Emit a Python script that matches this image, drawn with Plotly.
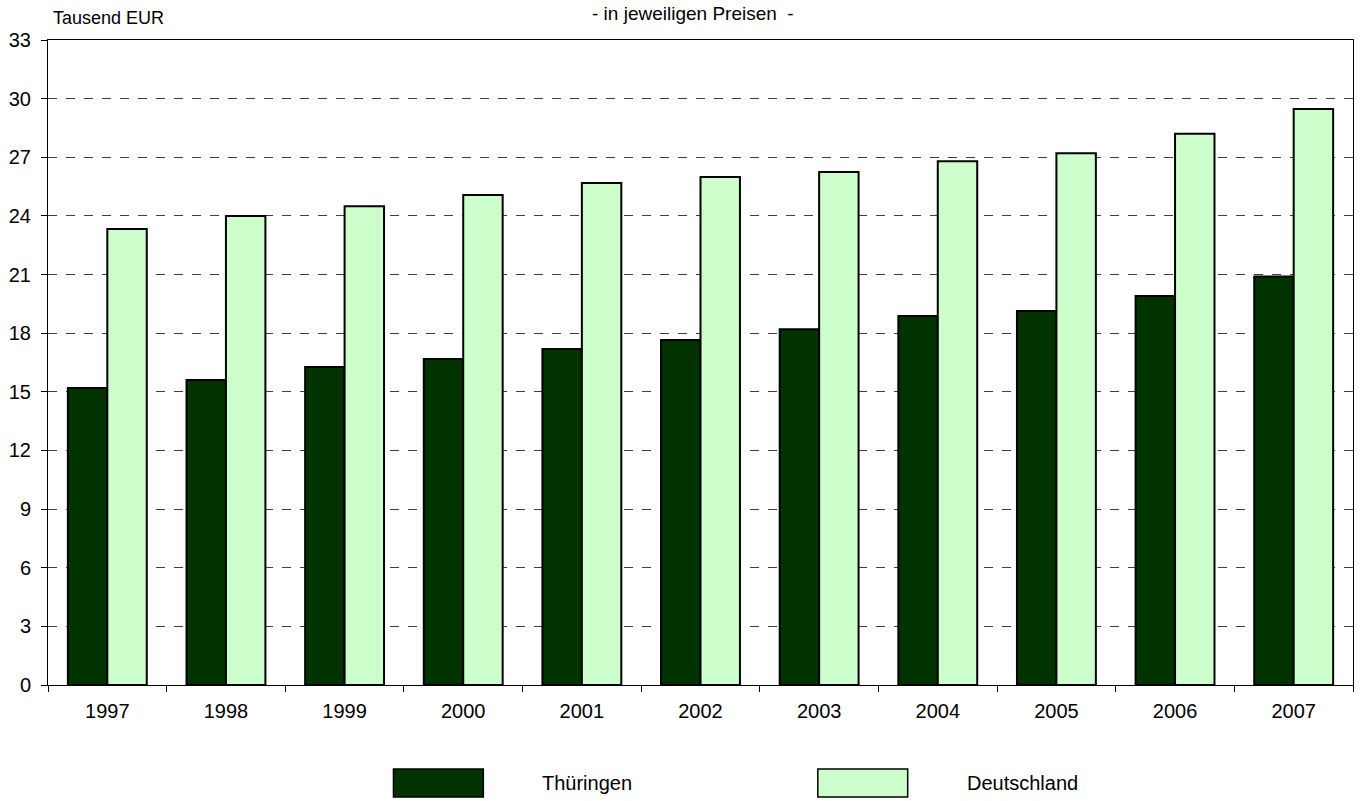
import plotly.graph_objects as go

years = ["1997", "1998", "1999", "2000", "2001", "2002", "2003", "2004", "2005", "2006", "2007"]
thueringen = [15.2, 15.6, 16.27, 16.68, 17.19, 17.65, 18.2, 18.88, 19.13, 19.9, 20.9]
deutschland = [23.33, 24.0, 24.5, 25.07, 25.68, 25.99, 26.25, 26.8, 27.2, 28.2, 29.47]
y_ticks = list(range(0, 34, 3))

c_th = "#003300"
c_de = "#CCFFCC"
font = "Liberation Sans, Arial, sans-serif"

W, H = 1363, 801
L, R, T, B = 47, 9, 40, 116
PW, PH = W - L - R, H - T - B


def px(x):
    return (x - L) / PW


def py(y):
    return (H - B - y) / PH


fig = go.Figure()
fig.add_trace(go.Bar(x=years, y=thueringen, name="Thüringen",
                     marker=dict(color=c_th, line=dict(color="black", width=2))))
fig.add_trace(go.Bar(x=years, y=deutschland, name="Deutschland",
                     marker=dict(color=c_de, line=dict(color="black", width=2))))

fig.update_layout(
    width=W, height=H,
    margin=dict(l=L, r=R, t=T, b=B),
    paper_bgcolor="white", plot_bgcolor="white",
    barmode="group", bargap=0.335, bargroupgap=0,
    showlegend=False,
    font=dict(family=font, size=20, color="black"),
)
fig.update_xaxes(
    type="category", showline=True, linecolor="black", linewidth=1, mirror=True,
    ticks="outside", tickson="boundaries", ticklen=6, tickcolor="black",
    showgrid=False, tickfont=dict(size=20), ticklabelstandoff=8,
)
fig.update_yaxes(
    range=[0, 33], tickvals=y_ticks, showline=True, linecolor="black", linewidth=1, mirror=True,
    ticks="outside", ticklen=6, tickcolor="black",
    showgrid=True, gridcolor="#404040", gridwidth=1, griddash="dash",
    zeroline=False, tickfont=dict(size=20), ticklabelstandoff=6,
)

fig.add_annotation(text="Tausend EUR", x=px(50), y=py(18), xref="paper", yref="paper",
                   showarrow=False, xanchor="left", yanchor="middle", font=dict(size=18))
fig.add_annotation(text="- in jeweiligen Preisen  -", x=px(693), y=py(14), xref="paper", yref="paper",
                   showarrow=False, xanchor="center", yanchor="middle", font=dict(size=19))

# legend drawn manually
legend_items = [("Thüringen", c_th, 393), ("Deutschland", c_de, 818)]
for name, col, x0 in legend_items:
    fig.add_shape(type="rect", xref="paper", yref="paper",
                  x0=px(x0), x1=px(x0 + 90), y0=py(797), y1=py(769),
                  fillcolor=col, line=dict(color="black", width=1.5))
    fig.add_annotation(text=name, xref="paper", yref="paper", x=px(x0 + 147),
                       y=py(783), showarrow=False, xanchor="left", yanchor="middle",
                       font=dict(size=20))

fig.write_html("out.html", config={"displayModeBar": False},
               post_script="document.body.style.margin='0';document.body.style.padding='0';")
